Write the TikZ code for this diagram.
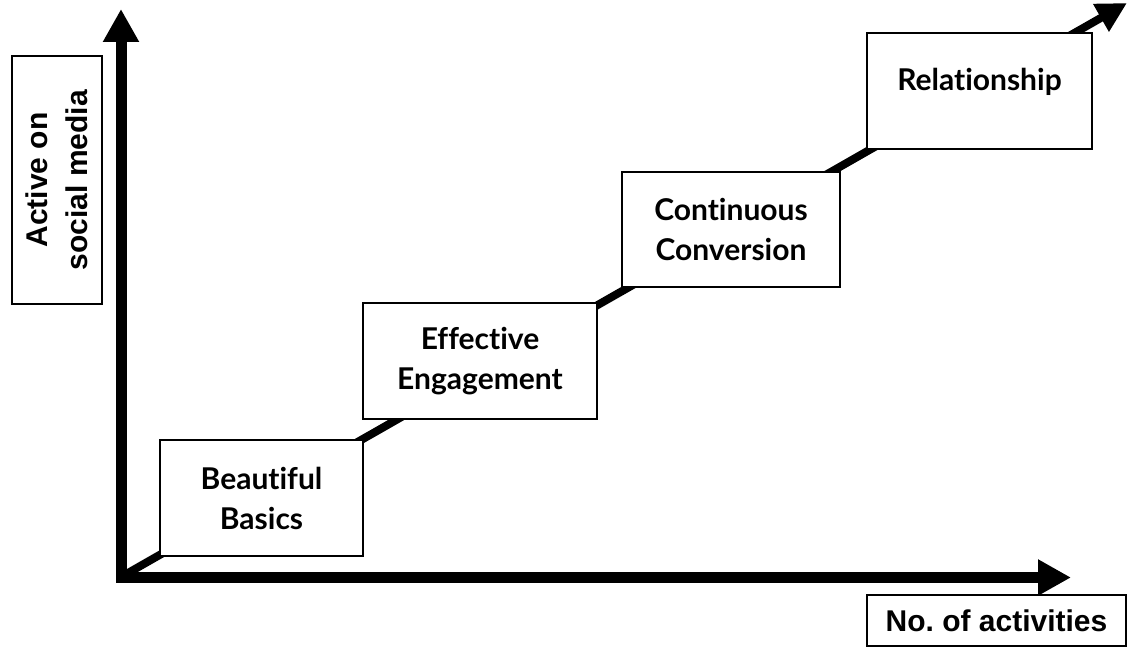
\documentclass[tikz,border=0pt]{standalone}
\usepackage{fontspec}
\setmainfont{Lato}[Ligatures={NoCommon}]
\newfontfamily\arialfont{Liberation Sans}
\usetikzlibrary{arrows.meta}
\tikzset{
  axis/.style={line width=11pt, line join=miter, {Triangle[length=33pt,width=34pt]}-{Triangle[length=33pt,width=34pt]}},
  diag/.style={line width=8pt, -{Triangle[length=30pt,width=30pt]}},
  stepbox/.style={draw, line width=1.5pt, fill=white, align=center, inner sep=0pt,
    font=\fontsize{30}{40}\selectfont\bfseries},
  lblbox/.style={draw, line width=1.2pt, fill=white, align=center, inner sep=0pt,
    font=\arialfont\fontsize{30}{40}\selectfont\bfseries}
}
\begin{document}
\frenchspacing
\begin{tikzpicture}[x=1pt,y=-1pt]
\useasboundingbox (0,0) rectangle (1128,647);
\coordinate (ytip) at (121,9);
\coordinate (org) at (121,577.5);
\coordinate (xtip) at (1071,577.5);
\coordinate (dstart) at (121,577);
\coordinate (dtip) at (1127,3);
\draw[axis] (ytip) -- (org) -- (xtip);
\draw[diag] (dstart) -- (dtip);
\node[stepbox, minimum width=203pt, minimum height=116pt] (b1) at (261.5,498) {Beautiful\\Basics};
\node[stepbox, minimum width=234pt, minimum height=116pt] (b2) at (480,361) {Effective\\Engagement};
\node[stepbox, minimum width=218pt, minimum height=115pt] (b3) at (731,229.5) {Continuous\\Conversion};
\node[stepbox, minimum width=225pt, minimum height=116pt, text depth=24pt] (b4) at (979.5,91) {Relationship};
\node[lblbox, rotate=90, minimum width=248pt, minimum height=90pt] (ylab) at (57,180) {Active on\\social media};
\node[lblbox, minimum width=259pt, minimum height=51pt] (xlab) at (996.5,620.5) {No. of activities};
\end{tikzpicture}
\end{document}
